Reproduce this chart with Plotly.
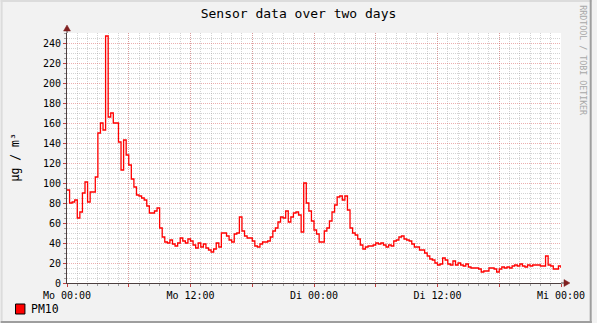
import plotly.graph_objects as go

# ---- data: PM10 readings, 15-minute steps, Mo 00:00 .. Mi 00:00 ----
step_hours = 0.25
pm10_mo_am = [93, 80, 81, 83, 65, 71, 90, 101, 81, 91, 91, 106,
              150, 160, 153, 247, 166, 170, 160, 160, 141, 113, 143, 128,
              118, 104, 96, 88, 87, 85, 83, 77, 70, 70, 72, 75,
              55, 46, 41, 40, 43, 39, 37, 40, 45, 42, 40, 44]
pm10_mo_pm = [42, 38, 35, 40, 36, 39, 35, 33, 31, 34, 40, 36,
              50, 50, 47, 43, 41, 49, 50, 66, 52, 47, 45, 45,
              42, 37, 36, 39, 41, 41, 42, 46, 52, 55, 61, 66,
              65, 72, 61, 66, 70, 71, 68, 51, 100, 80, 72, 62]
pm10_di_am = [53, 49, 41, 41, 52, 55, 62, 71, 78, 86, 87, 83,
              87, 73, 55, 50, 48, 44, 38, 34, 36, 37, 37, 38,
              40, 39, 40, 38, 36, 38, 37, 42, 43, 46, 47, 44,
              43, 42, 39, 36, 36, 33, 33, 30, 27, 24, 23, 20]
pm10_di_pm = [18, 19, 25, 23, 19, 18, 22, 18, 20, 18, 17, 19,
              16, 15, 15, 15, 14, 11, 12, 12, 15, 15, 14, 11,
              14, 16, 15, 16, 15, 17, 18, 17, 19, 17, 16, 18,
              17, 18, 18, 18, 17, 17, 27, 18, 17, 14, 14, 17, 15]

tick_hours = [0, 6, 12, 18, 24, 30, 36, 42, 48]
tick_labels = ["Mo 00:00", "", "Mo 12:00", "", "Di 00:00", "", "Di 12:00", "", "Mi 00:00"]

values = pm10_mo_am + pm10_mo_pm + pm10_di_am + pm10_di_pm
hours = [i * step_hours for i in range(len(values))]

# ---- layout geometry ----
W, H = 597, 323
L, R, T, B = 67, 31, 33, 40
PW, PH = W - L - R, H - T - B


def px2x(px):
    return (px - L) / PW


def py2y(py):
    return (H - B - py) / PH


FONT = "DejaVu Sans Mono"
MINOR_GRID = "rgba(150,150,150,0.42)"
MAJOR_GRID = "rgba(220,110,110,0.55)"
AXIS = "#4D4040"
ARROW = "#802020"

fig = go.Figure()
fig.add_trace(go.Scatter(
    x=hours, y=values, mode="lines", name="PM10",
    line=dict(color="#FF0000", width=1.3, shape="hv"),
    showlegend=False, hoverinfo="skip"))

fig.update_layout(
    width=W, height=H, autosize=False,
    margin=dict(l=L, r=R, t=T, b=B, pad=0),
    paper_bgcolor="#F2F2F2", plot_bgcolor="#FFFFFF",
    font=dict(family=FONT, color="#000000", size=10),
    title=dict(text="Sensor data over two days", x=0.5, xref="container",
               xanchor="center", y=1 - 13 / H, yref="container", yanchor="middle",
               font=dict(family=FONT, size=13, color="#000000")),
    xaxis=dict(range=[0, 48], tickmode="array", tickvals=tick_hours, ticktext=tick_labels,
               showgrid=True, gridcolor=MAJOR_GRID, griddash="1px,1px", gridwidth=1,
               ticks="outside", ticklen=3, tickcolor="#C04040", tickwidth=1,
               tickfont=dict(family=FONT, size=10, color="#000000"),
               showline=True, linecolor=AXIS, linewidth=1, zeroline=False,
               minor=dict(tickmode="linear", tick0=0, dtick=1, showgrid=True,
                          gridcolor=MINOR_GRID, griddash="1px,1px", gridwidth=1,
                          ticks="outside", ticklen=2, tickcolor="#A0A0A0")),
    yaxis=dict(range=[0, 250], tickmode="linear", tick0=0, dtick=20,
               showgrid=True, gridcolor=MAJOR_GRID, griddash="1px,1px", gridwidth=1,
               ticks="outside", ticklen=3, tickcolor="#C04040", tickwidth=1,
               tickfont=dict(family=FONT, size=10, color="#000000"),
               showline=True, linecolor=AXIS, linewidth=1, zeroline=False,
               minor=dict(tickmode="linear", tick0=0, dtick=5, showgrid=True,
                          gridcolor=MINOR_GRID, griddash="1px,1px", gridwidth=1,
                          ticks="outside", ticklen=2, tickcolor="#A0A0A0")),
)

shapes = []
# frame shading
shapes.append(dict(type="rect", xref="paper", yref="paper", x0=px2x(0), x1=px2x(2),
                   y0=py2y(H), y1=py2y(0), fillcolor="#DCDCDC", line=dict(width=0), layer="below"))
shapes.append(dict(type="rect", xref="paper", yref="paper", x0=px2x(0), x1=px2x(W),
                   y0=py2y(2), y1=py2y(0), fillcolor="#DCDCDC", line=dict(width=0), layer="below"))
shapes.append(dict(type="rect", xref="paper", yref="paper", x0=px2x(W - 2), x1=px2x(W),
                   y0=py2y(H), y1=py2y(0), fillcolor="#9E9E9E", line=dict(width=0), layer="below"))
shapes.append(dict(type="rect", xref="paper", yref="paper", x0=px2x(0), x1=px2x(W),
                   y0=py2y(H), y1=py2y(H - 2), fillcolor="#9E9E9E", line=dict(width=0), layer="below"))
# axis extensions and arrows
shapes.append(dict(type="line", xref="paper", yref="paper", x0=0, x1=0, y0=1, y1=py2y(30),
                   line=dict(color=AXIS, width=1)))
shapes.append(dict(type="line", xref="paper", yref="paper", x0=1, x1=px2x(570), y0=0, y1=0,
                   line=dict(color=AXIS, width=1)))
shapes.append(dict(type="path", xref="paper", yref="paper",
                   path=f"M {px2x(67)},{py2y(25)} L {px2x(63.5)},{py2y(31)} L {px2x(70.5)},{py2y(31)} Z",
                   fillcolor=ARROW, line=dict(color=ARROW, width=0.5)))
shapes.append(dict(type="path", xref="paper", yref="paper",
                   path=f"M {px2x(575)},{py2y(283)} L {px2x(569)},{py2y(279.5)} L {px2x(569)},{py2y(286.5)} Z",
                   fillcolor=ARROW, line=dict(color=ARROW, width=0.5)))
# legend swatch
shapes.append(dict(type="rect", xref="paper", yref="paper", x0=px2x(15), x1=px2x(24.5),
                   y0=py2y(314), y1=py2y(304), fillcolor="#FF0000",
                   line=dict(color="#000000", width=1)))
fig.update_layout(shapes=shapes)

annotations = [
    dict(text="µg / m³", xref="paper", yref="paper", x=px2x(14), y=py2y(158),
         xanchor="center", yanchor="middle", textangle=-90, showarrow=False,
         font=dict(family=FONT, size=11.5, color="#000000")),
    dict(text="PM10", xref="paper", yref="paper", x=px2x(29), y=py2y(309),
         xanchor="left", yanchor="middle", showarrow=False,
         font=dict(family=FONT, size=11.5, color="#000000")),
    dict(text="RRDTOOL / TOBI OETIKER", xref="paper", yref="paper", x=px2x(588), y=py2y(60),
         xanchor="center", yanchor="middle", textangle=90, showarrow=False,
         font=dict(family=FONT, size=8.3, color="#A8A8A8")),
]
fig.update_layout(annotations=annotations)

fig.write_html("out.html")
